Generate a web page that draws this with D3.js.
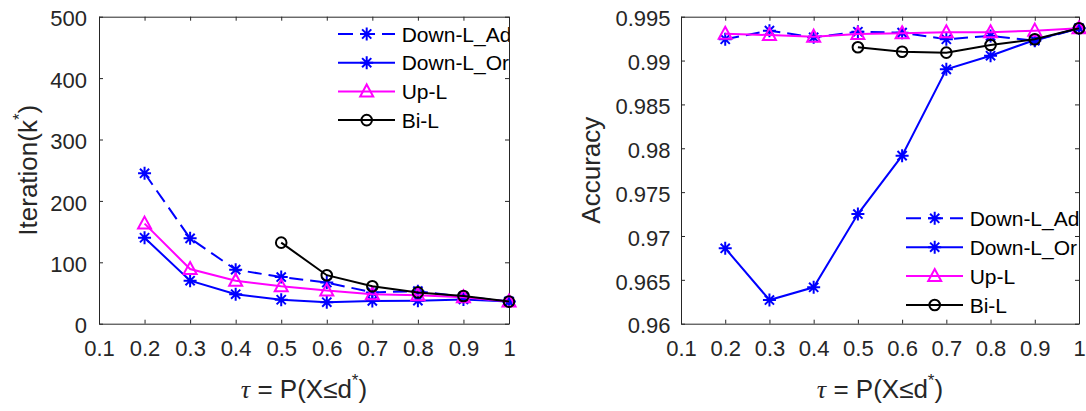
<!DOCTYPE html>
<html>
<head>
<meta charset="utf-8">
<script src="https://cdn.jsdelivr.net/npm/d3@7"></script>
<style>
  html, body { margin: 0; padding: 0; background: #fff; }
  svg { display: block; }
</style>
</head>
<body>
<svg id="chart" width="1086" height="411"></svg>
<script>
// tau values on the x axis
const tau = [0.2, 0.3, 0.4, 0.5, 0.6, 0.7, 0.8, 0.9, 1.0];
const xTicks = [0.1, 0.2, 0.3, 0.4, 0.5, 0.6, 0.7, 0.8, 0.9, 1];
const xTickLabels = ['0.1', '0.2', '0.3', '0.4', '0.5', '0.6', '0.7', '0.8', '0.9', '1'];

// left panel: iterations
const iterTicks = [0, 100, 200, 300, 400, 500];
const iterAd = [245, 139, 88, 76, 67, 51, 53, 44, 36];
const iterOr = [140, 70, 48, 39, 35, 37, 37.5, 39.5, 36];
const iterUp = [163, 89, 70, 61, 54, 48, 46.5, 43, 36];
const iterBi = [null, null, null, 132, 79, 61, 51, 45, 36];

// right panel: accuracy
const accTicks = [0.96, 0.965, 0.97, 0.975, 0.98, 0.985, 0.99, 0.995];
const accTickLabels = ['0.96', '0.965', '0.97', '0.975', '0.98', '0.985', '0.99', '0.995'];
const accAd = [0.99243, 0.99341, 0.99265, 0.99329, 0.99318, 0.99243, 0.99281, 0.99227, 0.99368];
const accOr = [0.9686, 0.9627, 0.96415, 0.9725, 0.97916, 0.989, 0.99055, 0.99235, 0.99368];
const accUp = [0.99305, 0.99291, 0.99272, 0.99303, 0.99311, 0.99322, 0.99322, 0.99341, 0.99368];
const accBi = [null, null, null, 0.99151, 0.99101, 0.9909, 0.99178, 0.99243, 0.99368];

const seriesNames = ['Down-L_Ad', 'Down-L_Or', 'Up-L', 'Bi-L'];
const seriesColors = ['#0000ff', '#0000ff', '#ff00ff', '#000000'];
const seriesMarkers = ['asterisk', 'asterisk', 'triangle', 'circle'];
const seriesDash = ['14,7', null, null, null];

const svg = d3.select('#chart');
const FONT = '"Liberation Sans", Arial, Helvetica, sans-serif';
const AXIS_COLOR = '#262626';

const drawMarker = (g, type, cx, cy, color) => {
    if (type === 'asterisk') {
        const r = 6.5, d = r * 0.707;
        g.append('path')
            .attr('d', `M${cx - r},${cy}L${cx + r},${cy}M${cx},${cy - r}L${cx},${cy + r}` +
                       `M${cx - d},${cy - d}L${cx + d},${cy + d}M${cx - d},${cy + d}L${cx + d},${cy - d}`)
            .attr('fill', 'none').attr('stroke', color).attr('stroke-width', 2);
    } else if (type === 'triangle') {
        g.append('path')
            .attr('d', `M${cx},${cy - 7}L${cx + 6.5},${cy + 5}L${cx - 6.5},${cy + 5}Z`)
            .attr('fill', 'none').attr('stroke', color).attr('stroke-width', 2)
            .attr('stroke-linejoin', 'miter');
    } else {
        g.append('circle')
            .attr('cx', cx).attr('cy', cy).attr('r', 5.3)
            .attr('fill', 'none').attr('stroke', color).attr('stroke-width', 2);
    }
};

const drawPanel = opts => {
    const x = d3.scaleLinear().domain([0.1, 1]).range([opts.x0, opts.x1]);
    const y = d3.scaleLinear().domain(opts.yDomain).range([opts.y1, opts.y0]);
    const g = svg.append('g');

    // axes, ticks pointing inward on all four sides
    const styleAxis = a => {
        a.attr('font-family', FONT).attr('font-size', 22);
        a.select('.domain').attr('stroke', AXIS_COLOR).attr('stroke-width', 1);
        a.selectAll('.tick line').attr('stroke', AXIS_COLOR);
        a.selectAll('.tick text').attr('fill', AXIS_COLOR);
    };
    g.append('g').attr('transform', `translate(0,${opts.y1})`)
        .call(d3.axisBottom(x).tickValues(xTicks).tickSizeInner(-4).tickSizeOuter(0)
            .tickPadding(17).tickFormat((d, i) => xTickLabels[i]))
        .call(styleAxis);
    g.append('g').attr('transform', `translate(0,${opts.y0})`)
        .call(d3.axisTop(x).tickValues(xTicks).tickSizeInner(-4).tickSizeOuter(0).tickFormat(''))
        .call(styleAxis);
    g.append('g').attr('transform', `translate(${opts.x0},0)`)
        .call(d3.axisLeft(y).tickValues(opts.yTicks).tickSizeInner(-4).tickSizeOuter(0)
            .tickPadding(opts.yPad).tickFormat((d, i) => opts.yLabels[i]))
        .call(styleAxis)
        .selectAll('.tick text').attr('dy', '0.42em');
    g.append('g').attr('transform', `translate(${opts.x1},0)`)
        .call(d3.axisRight(y).tickValues(opts.yTicks).tickSizeInner(-4).tickSizeOuter(0).tickFormat(''))
        .call(styleAxis);

    // series
    const line = d3.line()
        .defined(d => d.v != null)
        .x(d => x(d.t))
        .y(d => y(d.v));
    opts.series.forEach((vals, k) => {
        const pts = tau.map((t, i) => ({ t, v: vals[i] }));
        const sg = g.append('g');
        sg.append('path')
            .datum(pts)
            .attr('d', line)
            .attr('fill', 'none')
            .attr('stroke', seriesColors[k])
            .attr('stroke-width', 2)
            .attr('stroke-dasharray', seriesDash[k]);
        pts.filter(d => d.v != null)
            .forEach(d => drawMarker(sg, seriesMarkers[k], x(d.t), y(d.v), seriesColors[k]));
    });

    // legend
    const lg = g.append('g');
    if (opts.clipId) {
        svg.append('clipPath').attr('id', opts.clipId)
            .append('rect').attr('x', 0).attr('y', 0).attr('width', opts.x1).attr('height', 411);
        lg.attr('clip-path', `url(#${opts.clipId})`);
    }
    seriesNames.forEach((name, k) => {
        const ly = opts.legY + k * opts.legStep;
        lg.append('line')
            .attr('x1', opts.legX).attr('x2', opts.legX + 57)
            .attr('y1', ly).attr('y2', ly)
            .attr('stroke', seriesColors[k]).attr('stroke-width', 2)
            .attr('stroke-dasharray', seriesDash[k] ? '15,7' : null);
        drawMarker(lg, seriesMarkers[k], opts.legX + 28.7, ly, seriesColors[k]);
        lg.append('text')
            .attr('x', opts.legX + 63.7).attr('y', ly + 7.5)
            .attr('font-family', FONT).attr('font-size', 21)
            .attr('fill', '#000')
            .text(name);
    });

    // x label: tau = P(X <= d*)
    const xl = g.append('text')
        .attr('x', (opts.x0 + opts.x1) / 2).attr('y', 398)
        .attr('text-anchor', 'middle')
        .attr('font-family', FONT).attr('font-size', 26).attr('fill', AXIS_COLOR);
    xl.append('tspan').attr('font-family', '"Liberation Serif", "Times New Roman", serif')
        .attr('font-style', 'italic').text('τ');
    xl.append('tspan').text(' = P(X≤d');
    xl.append('tspan').attr('font-size', 17).attr('dy', -12).text('*');
    xl.append('tspan').attr('dy', 12).text(')');

    // y label
    const yl = g.append('text')
        .attr('transform', `translate(${opts.yLabelX},${(opts.y0 + opts.y1) / 2}) rotate(-90)`)
        .attr('text-anchor', 'middle')
        .attr('font-family', FONT).attr('font-size', 26).attr('fill', AXIS_COLOR);
    if (opts.yTitleSup) {
        yl.append('tspan').text(opts.yTitle);
        yl.append('tspan').attr('font-size', 17).attr('dy', -12).text('*');
        yl.append('tspan').attr('dy', 12).text(')');
    } else {
        yl.text(opts.yTitle);
    }
};

drawPanel({
    x0: 99, x1: 509, y0: 16.7, y1: 323.7,
    yDomain: [0, 500], yTicks: iterTicks, yLabels: iterTicks.map(String), yPad: 12,
    series: [iterAd, iterOr, iterUp, iterBi],
    legX: 338, legY: 34, legStep: 28.7, clipId: 'clipLeft',
    yLabelX: 37, yTitle: 'Iteration(k', yTitleSup: true
});

drawPanel({
    x0: 681, x1: 1079, y0: 16.7, y1: 323.7,
    yDomain: [0.96, 0.995], yTicks: accTicks, yLabels: accTickLabels, yPad: 10.5,
    series: [accAd, accOr, accUp, accBi],
    legX: 906, legY: 218.3, legStep: 28.9, clipId: null,
    yLabelX: 600, yTitle: 'Accuracy', yTitleSup: false
});
</script>
</body>
</html>
